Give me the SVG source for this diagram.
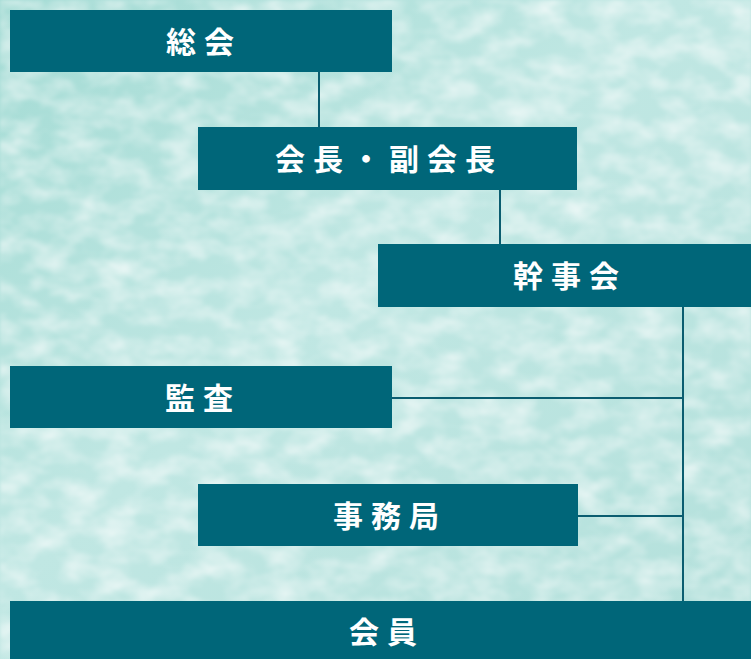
<svg xmlns="http://www.w3.org/2000/svg" width="751" height="659" viewBox="0 0 751 659">
<defs>
<linearGradient id="bg" x1="0" y1="0" x2="1" y2="1">
<stop offset="0" stop-color="#a3dbd4"/>
<stop offset="0.45" stop-color="#c0e7e3"/>
<stop offset="1" stop-color="#b3e0db"/>
</linearGradient>
<filter id="tex" x="0" y="0" width="100%" height="100%">
<feTurbulence type="fractalNoise" baseFrequency="0.03 0.05" numOctaves="3" seed="7"/>
<feColorMatrix type="matrix" values="0 0 0 0 1  0 0 0 0 1  0 0 0 0 1  1.2 0 0 0 -0.42"/>
<feGaussianBlur stdDeviation="1.5"/>
</filter>
<style>
.box{fill:#006679;}
.lbl{fill:#ffffff;font-family:"Noto Sans CJK JP","Noto Sans CJK SC",sans-serif;font-size:30px;font-weight:bold;letter-spacing:8px;dominant-baseline:central;}
.ln{stroke:#0b5d70;stroke-width:2;fill:none;}
</style>
</defs>
<rect width="751" height="659" fill="url(#bg)"/>
<rect width="751" height="659" filter="url(#tex)"/>
<g id="connectors">
<line class="ln" x1="319" y1="72" x2="319" y2="127"/>
<line class="ln" x1="500" y1="190" x2="500" y2="244"/>
<line class="ln" x1="683" y1="307" x2="683" y2="601"/>
<line class="ln" x1="392" y1="398" x2="683" y2="398"/>
<line class="ln" x1="578" y1="516" x2="683" y2="516"/>
</g>
<g id="soukai">
<rect class="box" x="10" y="10" width="382" height="62"/>
<text class="lbl" x="166" y="40">総会</text>
</g>
<g id="kaicho">
<rect class="box" x="198" y="127" width="379" height="63"/>
<text class="lbl" x="275" y="157">会長・副会長</text>
</g>
<g id="kanjikai">
<rect class="box" x="378" y="244" width="373" height="63"/>
<text class="lbl" x="513" y="274">幹事会</text>
</g>
<g id="kansa">
<rect class="box" x="10" y="366" width="382" height="62"/>
<text class="lbl" x="165" y="396">監査</text>
</g>
<g id="jimukyoku">
<rect class="box" x="198" y="484" width="380" height="62"/>
<text class="lbl" x="333" y="514">事務局</text>
</g>
<g id="kaiin">
<rect class="box" x="10" y="601" width="741" height="58"/>
<text class="lbl" x="349" y="630">会員</text>
</g>
</svg>
